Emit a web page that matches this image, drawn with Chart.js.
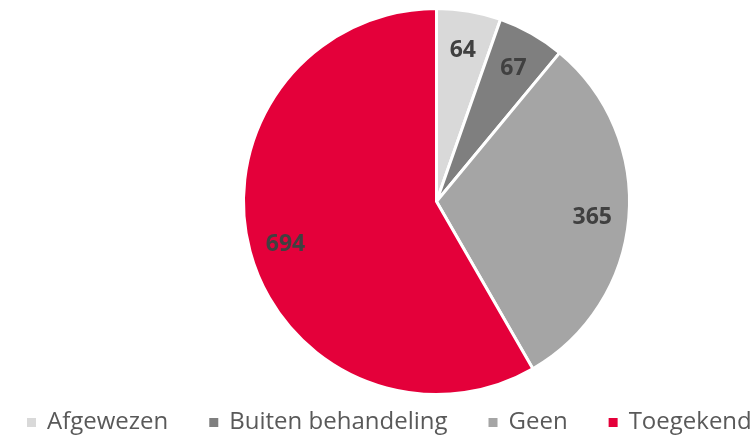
<!DOCTYPE html>
<html>
<head>
<meta charset="utf-8">
<script src="https://cdn.jsdelivr.net/npm/chart.js@4"></script>
<style>
  html, body { margin: 0; padding: 0; background: #fff; }
  #wrap { width: 753px; height: 435px; }
</style>
</head>
<body>
<div id="wrap"><canvas id="pieChart"></canvas></div>
<script>
const categories = ['Afgewezen', 'Buiten behandeling', 'Geen', 'Toegekend'];
const counts     = [64, 67, 365, 694];
const colors     = ['#d9d9d9', '#7f7f7f', '#a5a5a5', '#e4003a'];

// waarden in de taartpunten
const sliceLabels = {
  id: 'sliceLabels',
  afterDatasetsDraw(chart) {
    const ctx = chart.ctx;
    const meta = chart.getDatasetMeta(0);
    ctx.save();
    ctx.font = 'bold 23px "Open Sans", sans-serif';
    ctx.fillStyle = '#404040';
    ctx.textAlign = 'center';
    ctx.textBaseline = 'middle';
    meta.data.forEach((arc, i) => {
      const mid = (arc.startAngle + arc.endAngle) / 2;
      const r = arc.outerRadius * 0.81;
      ctx.fillText(String(counts[i]), arc.x + Math.cos(mid) * r, arc.y + Math.sin(mid) * r + 3);
    });
    ctx.restore();
  }
};

// eigen legenda onderaan, links uitgelijnd
const bottomLegend = {
  id: 'bottomLegend',
  afterDraw(chart) {
    const ctx = chart.ctx;
    ctx.save();
    ctx.font = '24px "Open Sans", sans-serif';
    ctx.textBaseline = 'middle';
    const y = 422;
    let x = 27;
    categories.forEach((c, i) => {
      ctx.fillStyle = colors[i];
      ctx.fillRect(x, y - 4, 9, 9);
      ctx.fillStyle = '#595959';
      ctx.fillText(c, x + 20, y);
      x += 20 + ctx.measureText(c).width + 41;
    });
    ctx.restore();
  }
};

new Chart(document.getElementById('pieChart'), {
  type: 'pie',
  data: {
    labels: categories,
    datasets: [{
      data: counts,
      backgroundColor: colors,
      borderColor: '#ffffff',
      borderWidth: 3
    }]
  },
  options: {
    responsive: true,
    maintainAspectRatio: false,
    animation: false,
    layout: { padding: { top: 7, bottom: 39, left: 120, right: 0 } },
    plugins: {
      legend: { display: false },
      tooltip: { enabled: false }
    }
  },
  plugins: [sliceLabels, bottomLegend]
});
</script>
</body>
</html>
